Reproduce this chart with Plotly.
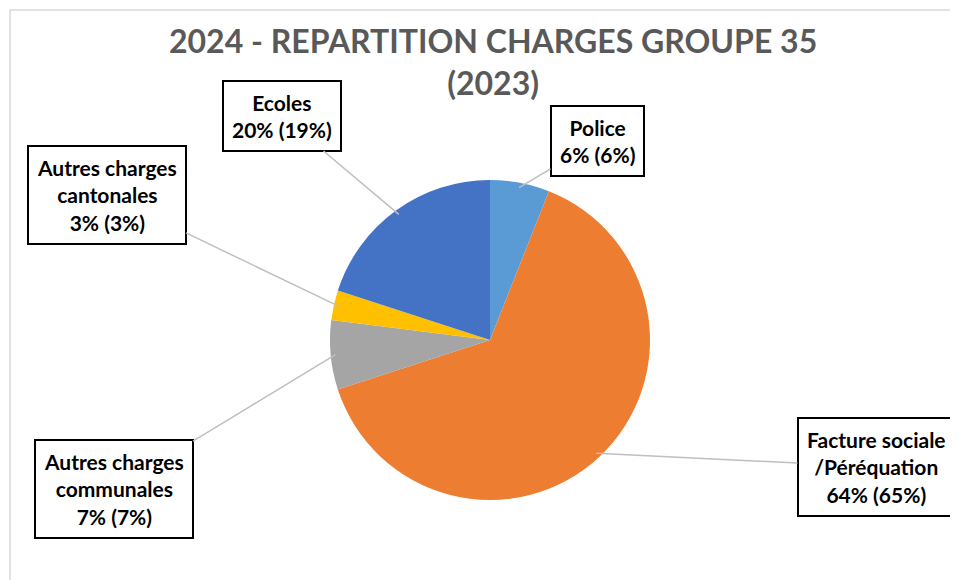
import math
import plotly.graph_objects as go

# ---- data ----
categories = ["Police", "Facture sociale<br>/Péréquation", "Autres charges<br>communales",
              "Autres charges<br>cantonales", "Ecoles"]
values_2024 = [6, 64, 7, 3, 20]
values_2023 = [6, 65, 7, 3, 19]
colors = ["#5B9BD5", "#ED7D31", "#A5A5A5", "#FFC000", "#4472C4"]

W, H = 958, 580
OFF = 8  # page body margin offset
cx, cy, r = 490 - OFF, 340 - OFF, 160  # pie centre / radius in pixels

fig = go.Figure(go.Pie(
    labels=categories,
    values=values_2024,
    sort=False,
    direction="clockwise",
    rotation=0,
    marker=dict(colors=colors, line=dict(width=0)),
    textinfo="none",
    hoverinfo="label+percent",
    showlegend=False,
    domain=dict(x=[(cx - r) / W, (cx + r) / W], y=[1 - (cy + r) / H, 1 - (cy - r) / H]),
))

# label box centres (pixels, as on screen)
box_centres = [(597, 141), (876, 467), (114, 489), (107, 195), (282, 116)]

total = sum(values_2024)
cum = 0
for cat, v24, v23, (bx, by) in zip(categories, values_2024, values_2023, box_centres):
    bx, by = bx - OFF, by - OFF
    mid = (cum + v24 / 2) / total * 2 * math.pi
    cum += v24
    tx = cx + r * 0.97 * math.sin(mid)
    ty = cy - r * 0.97 * math.cos(mid)
    fig.add_annotation(
        x=tx / W, y=1 - ty / H, xref="paper", yref="paper",
        text=f"<b>{cat}<br>{round(v24 / total * 100)}% ({v23}%)</b>",
        showarrow=True, arrowhead=0, arrowwidth=1.5, arrowcolor="#BFBFBF",
        ax=bx - tx, ay=by - ty,
        font=dict(family="Lato, Calibri, sans-serif", size=21, color="#000000"),
        bgcolor="#FFFFFF", bordercolor="#000000", borderwidth=2, borderpad=8,
        align="center",
    )

# title
fig.add_annotation(
    x=(493 - OFF) / W, y=1 - (61 - OFF) / H, xref="paper", yref="paper",
    xanchor="center", yanchor="middle", showarrow=False,
    text="<b>2024 - REPARTITION CHARGES GROUPE 35<br>(2023)</b>",
    font=dict(family="Lato, Calibri, sans-serif", size=32, color="#595959"),
)

fig.add_shape(type="rect", xref="paper", yref="paper",
              x0=(10 - OFF) / W, x1=1.05, y0=-0.05, y1=1 - (10 - OFF) / H,
              line=dict(color="#D9D9D9", width=1.5), layer="below")

fig.update_layout(
    width=W, height=H,
    margin=dict(l=0, r=0, t=0, b=0),
    paper_bgcolor="#FFFFFF",
    plot_bgcolor="#FFFFFF",
)

fig.write_html("out.html")
